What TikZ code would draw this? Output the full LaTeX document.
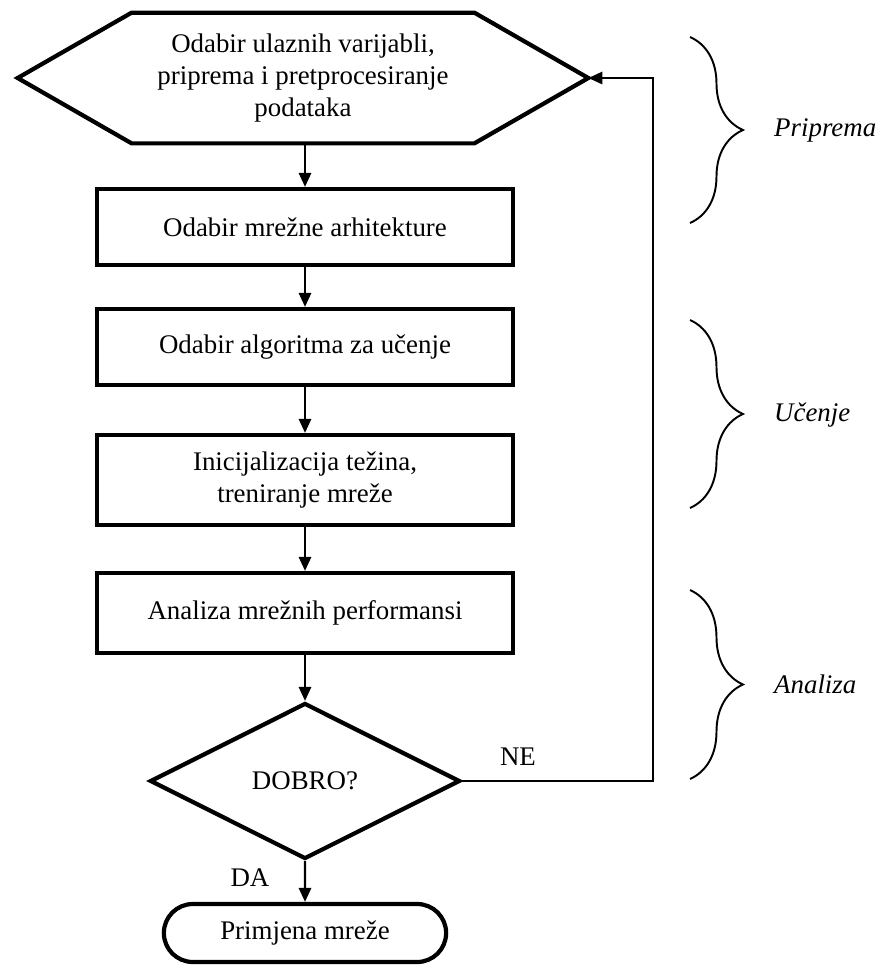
\documentclass[tikz,border=0pt]{standalone}
\usepackage{fontspec}
\setmainfont{Liberation Serif}
\usepackage{tikz}
\usetikzlibrary{arrows.meta, positioning, calc, shapes.geometric, shapes.misc, decorations.pathreplacing}

\tikzset{
    flowtext/.style={font=\fontsize{15.3}{18}\selectfont, align=center},
    stepbox/.style={flowtext, draw, line width=2.4pt, minimum width=416*0.02cm, inner sep=0pt},
    decision/.style={flowtext, draw, diamond, line width=2.4pt, minimum width=310*0.02cm, minimum height=156*0.02cm, inner sep=0pt, aspect=2},
    terminal/.style={flowtext, draw, rounded rectangle, line width=2.4pt, minimum width=294*0.02cm, minimum height=58*0.02cm},
    flow/.style={line width=1.3pt, -{Triangle[length=8pt, width=7pt]}},
    phase/.style={line width=1.1pt, decorate, decoration={brace, amplitude=1.06cm}},
    phasetext/.style={font=\fontsize{15.3}{18}\selectfont\itshape, anchor=west}
}

\begin{document}
\begin{tikzpicture}[x=0.02cm, y=-0.02cm]
    \useasboundingbox (0,0) rectangle (892,965);

    % Priprema
    \node[flowtext, minimum width=570*0.02cm, minimum height=130*0.02cm, inner sep=0pt] (prep) at (303,78)
        {Odabir ulaznih varijabli,\\priprema i pretprocesiranje\\podataka};
    \draw[line width=2.4pt, line join=miter]
        (prep.west) -- ($(prep.north west)+(114,0)$) -- ($(prep.north east)+(-114,0)$)
        -- (prep.east) -- ($(prep.south east)+(-114,0)$) -- ($(prep.south west)+(114,0)$) -- cycle;

    \node[stepbox, minimum height=76*0.02cm] (arch) at (305,227) {Odabir mrežne arhitekture};
    \node[stepbox, minimum height=76*0.02cm] (algo) at (305,347) {Odabir algoritma za učenje};
    \node[stepbox, minimum height=90*0.02cm] (train) at (305,480) {Inicijalizacija težina,\\treniranje mreže};
    \node[stepbox, minimum height=80*0.02cm] (perf) at (305,613) {Analiza mrežnih performansi};
    \node[decision] (ok) at (305,781) {DOBRO?};
    \node[terminal] (use) at (305,933) {Primjena mreže};

    % Arrows
    \draw[flow] (prep.south -| arch.north) -- (arch.north);
    \draw[flow] (arch) -- (algo);
    \draw[flow] (algo) -- (train);
    \draw[flow] (train) -- (perf);
    \draw[flow] (perf) -- (ok);
    \draw[flow] (ok) -- (use);
    \node[flowtext] (da) at (250,878) {DA};

    % Loop back
    \coordinate (back) at (653,781);
    \draw[flow] (ok.east) -- (back) -- (back |- prep.east) -- (prep.east);
    \node[flowtext] (ne) at (518,757) {NE};

    % Phases
    \draw[phase] (690,37) -- (690,223);
    \node[phasetext] (lprep) at (768,130) {Priprema};
    \draw[phase] (690,320) -- (690,508);
    \node[phasetext] (lucenje) at (768,415) {Učenje};
    \draw[phase] (690,590) -- (690,779);
    \node[phasetext] (lanaliza) at (768,684) {Analiza};
\end{tikzpicture}
\end{document}
